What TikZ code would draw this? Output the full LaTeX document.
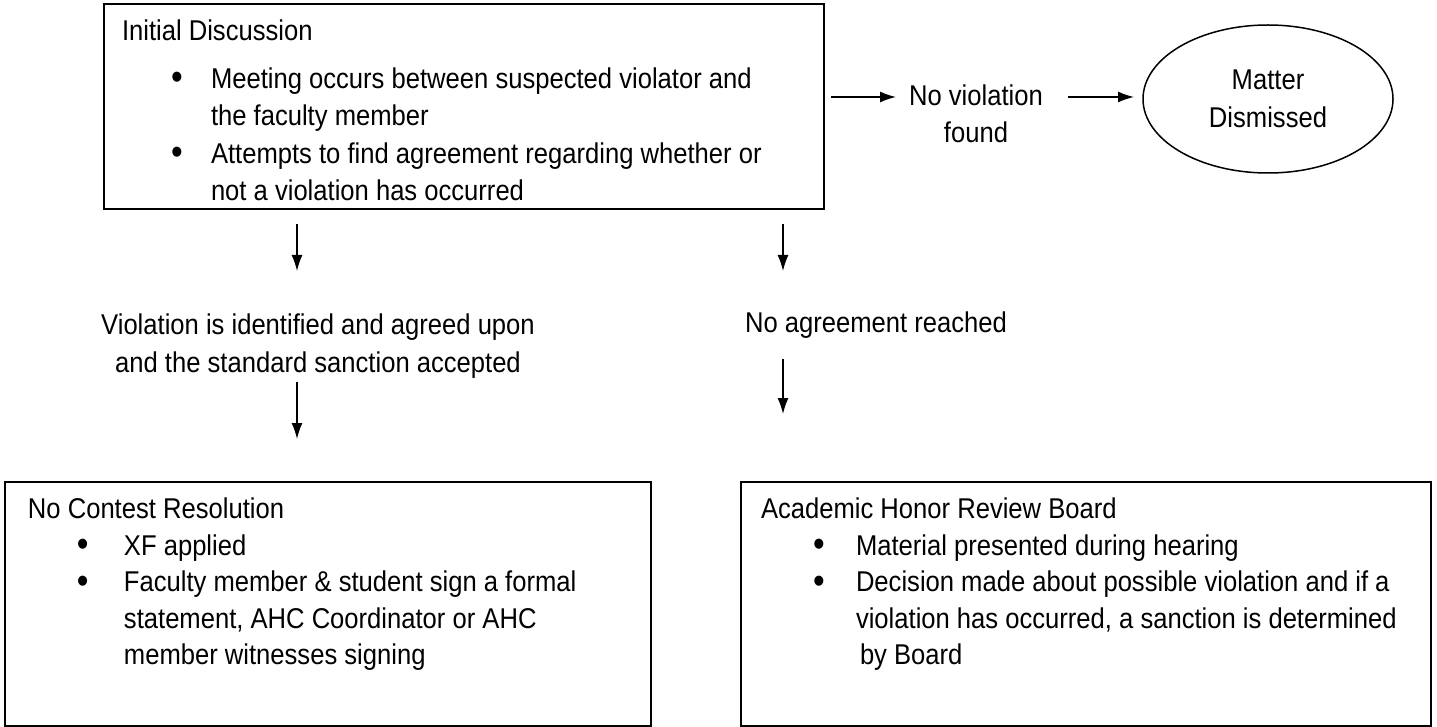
\documentclass[tikz,border=0pt]{standalone}
\usepackage{fontspec}
\setmainfont{Liberation Sans}[FakeStretch=0.895]
\usetikzlibrary{arrows.meta,shapes.geometric}
% box body: width, height, top pad, left pad, lines
\newcommand{\boxbody}[5]{\parbox[t][#2][t]{#1}{\vspace*{#3}\raggedright\leftskip=#4\parindent=0pt #5}}
\newcommand{\bul}[2]{\hspace*{#1}\makebox[#2][l]{\raisebox{-1.5pt}{\scalebox{1.3}{\textbullet}}}}
\begin{document}
\begin{tikzpicture}[x=1pt,y=-1pt,
  font=\fontsize{28.6}{37.5}\selectfont,
  stepbox/.style={draw,line width=2pt,anchor=north west,inner sep=0pt},
  flow/.style={line width=1.5pt,-{Latex[length=16pt,width=11pt]}},
  label/.style={align=center,inner sep=0pt}]
\useasboundingbox (0,0) rectangle (1437,727);

\node[stepbox](init) at (103,3){\boxbody{720pt}{205pt}{16pt}{18pt}{%
Initial Discussion\\[10pt]
\bul{49pt}{40pt}Meeting occurs between suspected violator and\\
\hspace*{89pt}the faculty member\\
\bul{49pt}{40pt}Attempts to find agreement regarding whether or\\
\hspace*{89pt}not a violation has occurred}};

\node[label](nv) at (976,114){No violation\\found};
\node[draw,ellipse,line width=1.5pt,minimum width=250pt,minimum height=148pt,align=center](md) at (1268,99){Matter\\Dismissed};

\node[label](vio) at (318,346){Violation is identified and agreed upon\\and the standard sanction accepted};
\node[label](noag) at (876,325){No agreement reached};

\node[stepbox](nc) at (4,481){\boxbody{646pt}{244pt}{16pt}{23pt}{%
No Contest Resolution\\[-1pt]
\bul{49pt}{47pt}XF applied\\[-1pt]
\bul{49pt}{47pt}Faculty member \& student sign a formal\\[-1pt]
\hspace*{96pt}statement, AHC Coordinator or AHC\\[-1pt]
\hspace*{96pt}member witnesses signing}};

\node[stepbox](ahrb) at (740,481){\boxbody{690pt}{244pt}{16pt}{20pt}{%
Academic Honor Review Board\\[-1pt]
\bul{52pt}{43pt}Material presented during hearing\\[-1pt]
\bul{52pt}{43pt}Decision made about possible violation and if a\\[-1pt]
\hspace*{95pt}violation has occurred, a sanction is determined\\[-1pt]
\hspace*{99pt}by Board}};

\coordinate (r1a) at (831,97); \coordinate (r1b) at (896,97);
\coordinate (r2a) at (1068,97); \coordinate (r2b) at (1134,97);
\coordinate (d1a) at (297,224); \coordinate (d1b) at (297,271);
\coordinate (d2a) at (783,224); \coordinate (d2b) at (783,271);
\coordinate (d3a) at (297,382); \coordinate (d3b) at (297,439);
\coordinate (d4a) at (783,359); \coordinate (d4b) at (783,414);
\foreach \a/\b in {r1a/r1b,r2a/r2b,d1a/d1b,d2a/d2b,d3a/d3b,d4a/d4b}
 \draw[flow] (\a)--(\b);

\end{tikzpicture}
\end{document}
